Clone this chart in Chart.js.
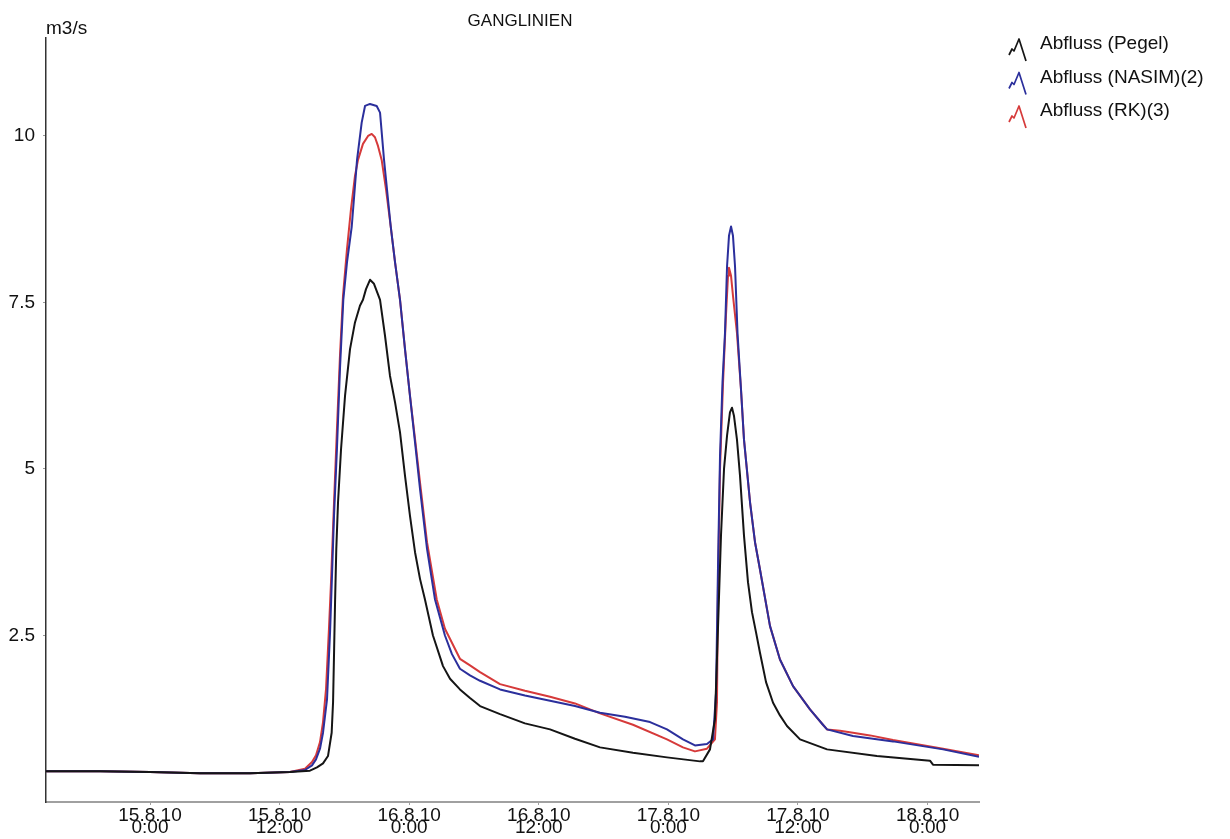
<!DOCTYPE html>
<html>
<head>
<meta charset="utf-8">
<title>Ganglinien</title>
<script src="https://cdn.jsdelivr.net/npm/chart.js@4.4.1/dist/chart.umd.min.js"></script>
<style>
  html, body { margin: 0; padding: 0; background: #fff; }
  #chart { display: block; }
</style>
</head>
<body>
<canvas id="chart" width="1230" height="839"></canvas>
<script>
// Abfluss-Ganglinien 15.8.2010 - 18.8.2010
// time axis: hours since 15.8.10 0:00, discharge in m3/s

const TITLE = "GANGLINIEN";
const UNIT = "m3/s";
const START_DAY = 15;
const TIME_MIN = -9.63;
const TIME_MAX = 76.76;
const Q_MAX = 11.47;
const Y_TICKS = [2.5, 5, 7.5, 10];
const X_TICKS = [0, 12, 24, 36, 48, 60, 72];

// gemessener Abfluss am Pegel [h, m3/s]
const pegel = [
  [-9.63, 0.46], [-4.63, 0.46], [0, 0.45], [4.63, 0.43], [9.26, 0.43], [12.96, 0.45],
  [14.81, 0.47], [15.46, 0.52], [16.02, 0.58], [16.48, 0.69], [16.82, 1.04], [16.95, 1.5],
  [17.05, 2.3], [17.14, 3.04], [17.25, 3.8], [17.41, 4.5], [17.69, 5.3], [18.06, 6.1],
  [18.52, 6.8], [18.98, 7.2], [19.44, 7.45], [19.72, 7.54], [20.0, 7.7], [20.37, 7.84],
  [20.74, 7.78], [21.11, 7.62], [21.3, 7.54], [21.76, 7.0], [22.22, 6.4], [22.69, 6.0],
  [23.15, 5.55], [23.61, 4.9], [24.07, 4.3], [24.54, 3.75], [25.0, 3.35], [25.46, 3.04],
  [26.2, 2.5], [27.13, 2.04], [27.78, 1.85], [28.7, 1.69], [29.63, 1.56], [30.56, 1.44],
  [32.41, 1.32], [34.72, 1.18], [37.04, 1.09], [39.35, 0.95], [41.67, 0.82], [44.72, 0.74],
  [47.87, 0.67], [50.93, 0.61], [51.2, 0.61], [51.85, 0.79], [52.31, 1.24], [52.59, 2.6],
  [52.87, 4.0], [53.15, 5.0], [53.43, 5.5], [53.7, 5.85], [53.89, 5.92], [54.07, 5.8],
  [54.35, 5.44], [54.63, 4.9], [55.0, 4.0], [55.37, 3.3], [55.74, 2.85], [56.11, 2.55],
  [56.48, 2.24], [57.04, 1.8], [57.69, 1.49], [58.33, 1.3], [58.98, 1.14], [60.19, 0.94],
  [62.69, 0.79], [67.31, 0.69], [72.22, 0.62], [72.5, 0.56], [76.76, 0.55]
];

// Simulation NASIM
const nasim = [
  [-9.63, 0.46], [-4.63, 0.46], [0, 0.45], [4.63, 0.43], [9.26, 0.43], [12.96, 0.45],
  [14.35, 0.48], [15.0, 0.55], [15.37, 0.64], [15.74, 0.8], [16.02, 1.04], [16.39, 1.54],
  [16.67, 2.54], [16.81, 3.2], [17.04, 4.3], [17.31, 5.3], [17.59, 6.5], [17.9, 7.54],
  [18.24, 8.1], [18.68, 8.64], [19.17, 9.64], [19.6, 10.2], [19.91, 10.45], [20.37, 10.48],
  [20.99, 10.45], [21.3, 10.35], [21.67, 9.64], [22.29, 8.64], [22.69, 8.1], [23.15, 7.54],
  [23.61, 6.8], [24.07, 6.1], [24.54, 5.4], [25.0, 4.7], [25.65, 3.8], [26.39, 3.04],
  [27.31, 2.5], [27.96, 2.22], [28.7, 2.0], [29.63, 1.9], [30.56, 1.82], [32.41, 1.69],
  [34.72, 1.6], [37.04, 1.52], [39.35, 1.44], [41.67, 1.34], [43.98, 1.28], [46.3, 1.2],
  [47.87, 1.09], [49.35, 0.94], [50.46, 0.85], [51.57, 0.87], [52.13, 0.94], [52.41, 1.64],
  [52.59, 3.5], [52.78, 5.2], [53.01, 6.3], [53.24, 7.04], [53.43, 8.04], [53.61, 8.5],
  [53.8, 8.64], [53.98, 8.5], [54.17, 8.04], [54.4, 7.04], [54.72, 6.2], [55.0, 5.44],
  [55.56, 4.5], [56.02, 3.9], [56.48, 3.49], [57.41, 2.64], [58.33, 2.14], [59.54, 1.74],
  [61.11, 1.39], [62.31, 1.16], [62.69, 1.09], [65.09, 0.99], [68.8, 0.91], [73.43, 0.79],
  [76.76, 0.68]
];

// Simulation RK
const rk = [
  [-9.63, 0.46], [-4.63, 0.46], [0, 0.45], [4.63, 0.43], [9.26, 0.43], [12.96, 0.45],
  [14.35, 0.5], [15.0, 0.6], [15.37, 0.7], [15.74, 0.9], [16.02, 1.2], [16.3, 1.7],
  [16.57, 2.6], [16.76, 3.3], [17.04, 4.5], [17.31, 5.6], [17.59, 6.7], [17.87, 7.6],
  [18.24, 8.3], [18.61, 8.9], [18.98, 9.4], [19.26, 9.64], [19.72, 9.88], [20.19, 10.0],
  [20.53, 10.03], [20.83, 9.98], [21.11, 9.85], [21.45, 9.64], [21.85, 9.2], [22.29, 8.64],
  [22.69, 8.1], [23.15, 7.54], [23.61, 6.8], [24.07, 6.1], [24.54, 5.45], [25.0, 4.8],
  [25.65, 3.9], [26.55, 3.04], [27.31, 2.6], [28.7, 2.15], [29.63, 2.05], [30.56, 1.95],
  [32.41, 1.77], [34.72, 1.67], [37.04, 1.58], [39.35, 1.48], [41.67, 1.33], [44.72, 1.16],
  [47.87, 0.94], [49.35, 0.82], [50.46, 0.76], [51.57, 0.8], [52.31, 0.94], [52.5, 1.5],
  [52.59, 3.2], [52.78, 5.0], [53.06, 6.3], [53.33, 7.3], [53.52, 7.9], [53.61, 8.02],
  [53.8, 7.9], [53.98, 7.6], [54.35, 7.04], [54.72, 6.2], [55.0, 5.44], [55.56, 4.5],
  [56.02, 3.9], [56.48, 3.49], [57.41, 2.64], [58.33, 2.14], [59.54, 1.74], [61.11, 1.39],
  [62.31, 1.16], [62.69, 1.09], [63.89, 1.07], [65.09, 1.04], [66.67, 1.0], [68.8, 0.93],
  [73.43, 0.8], [76.76, 0.7]
];

const FONT = "'Liberation Sans', Arial, Helvetica, sans-serif";
const toXY = (rows) => rows.map(([t, q]) => ({ x: t, y: q }));

// "15.8.10" / "0:00" from hours since start
function timeLabel(h) {
  const day = START_DAY + Math.floor(h / 24);
  const hour = ((h % 24) + 24) % 24;
  return [day + ".8.10", hour + ":00"];
}

// little hydrograph glyph used as legend symbol
function drawGlyph(ctx, x, y, color) {
  ctx.save();
  ctx.strokeStyle = color;
  ctx.lineWidth = 1.7;
  ctx.lineJoin = "round";
  ctx.beginPath();
  ctx.moveTo(x, y + 16);
  ctx.lineTo(x + 3, y + 10);
  ctx.lineTo(x + 5, y + 12);
  ctx.lineTo(x + 10, y);
  ctx.lineTo(x + 17, y + 22);
  ctx.stroke();
  ctx.restore();
}

const decorations = {
  id: "decorations",
  afterDraw(chart) {
    const ctx = chart.ctx;
    ctx.save();
    ctx.fillStyle = "#111";
    ctx.textBaseline = "middle";

    ctx.font = "17px " + FONT;
    ctx.textAlign = "center";
    ctx.fillText(TITLE, 520, 21);

    ctx.font = "19px " + FONT;
    ctx.textAlign = "left";
    ctx.fillText(UNIT, 46, 29);

    chart.data.datasets.forEach((ds, i) => {
      const cy = 44 + i * 33.5;
      drawGlyph(ctx, 1009, cy - 5, ds.borderColor);
      ctx.fillStyle = "#111";
      ctx.fillText(ds.label, 1040, cy);
    });
    ctx.restore();
  }
};

new Chart(document.getElementById("chart"), {
  type: "line",
  data: {
    datasets: [
      { label: "Abfluss (Pegel)", data: toXY(pegel), borderColor: "#151515", order: 0 },
      { label: "Abfluss (NASIM)(2)", data: toXY(nasim), borderColor: "#2b2f9c", order: 1 },
      { label: "Abfluss (RK)(3)", data: toXY(rk), borderColor: "#d63a3a", order: 2 }
    ]
  },
  options: {
    responsive: false,
    animation: false,
    devicePixelRatio: 1,
    parsing: false,
    elements: {
      line: { borderWidth: 2, tension: 0, fill: false, borderJoinStyle: "round" },
      point: { radius: 0 }
    },
    layout: { padding: { top: 38, right: 251, left: 0, bottom: 0 } },
    plugins: {
      legend: { display: false },
      title: { display: false },
      tooltip: { enabled: false }
    },
    scales: {
      x: {
        type: "linear",
        min: TIME_MIN,
        max: TIME_MAX,
        afterBuildTicks: (scale) => { scale.ticks = X_TICKS.map((v) => ({ value: v })); },
        afterFit: (scale) => { scale.height = 37; },
        border: { color: "#a0a0a0", width: 2 },
        grid: { drawOnChartArea: false, tickLength: 3, color: "#a0a0a0" },
        ticks: {
          color: "#111",
          padding: 5,
          maxRotation: 0,
          autoSkip: false,
          font: { family: FONT, size: 19, lineHeight: 0.62 },
          callback: (v) => timeLabel(v)
        }
      },
      y: {
        type: "linear",
        min: 0,
        max: Q_MAX,
        afterBuildTicks: (scale) => { scale.ticks = Y_TICKS.map((v) => ({ value: v })); },
        afterFit: (scale) => { scale.width = 46; },
        border: { color: "#333", width: 1.5 },
        grid: { drawOnChartArea: false, tickLength: 3, color: "#999" },
        ticks: {
          color: "#111",
          padding: 8,
          font: { family: FONT, size: 19 },
          callback: (v) => String(v)
        }
      }
    }
  },
  plugins: [decorations]
});
</script>
</body>
</html>
